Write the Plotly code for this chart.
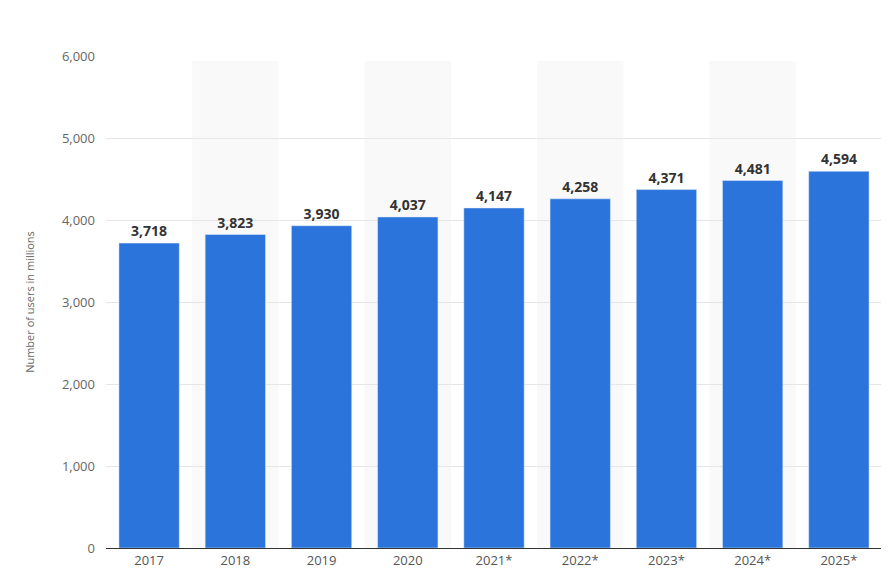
import plotly.graph_objects as go

years = ["2017", "2018", "2019", "2020", "2021*", "2022*", "2023*", "2024*", "2025*"]
users = [3718, 3823, 3930, 4037, 4147, 4258, 4371, 4481, 4594]
labels = [f"{v:,}" for v in users]

fig = go.Figure(go.Bar(
    x=years, y=users, marker_color="#2a74db", text=labels, textposition="outside",
    textfont=dict(family="Open Sans", size=14, color="#333333", weight="bold"),
    cliponaxis=False,
))
shapes = []
for i in range(1, len(years), 2):
    shapes.append(dict(type="rect", xref="x", yref="paper", x0=i - 0.5, x1=i + 0.5,
                       y0=0, y1=0.99, fillcolor="#f9f9f9", line_width=0, layer="below"))
fig.update_layout(
    width=889, height=580, margin=dict(l=98, r=15, t=48, b=40, autoexpand=False),
    plot_bgcolor="white", paper_bgcolor="white", shapes=shapes, bargap=0.3,
    showlegend=False, font=dict(family="Open Sans", color="#666666", size=12),
)
fig.update_xaxes(showline=True, linecolor="#333333", linewidth=1, ticks="", automargin=False,
                 tickfont=dict(size=13, color="#555555"))
fig.update_yaxes(range=[0, 6000], dtick=1000, tickformat=",", gridcolor="#e6e6e6",
                 zeroline=False, automargin=False,
                 title=dict(text="Number of users in millions",
                            font=dict(size=11, color="#666666"), standoff=25),
                 tickfont=dict(size=13, color="#666666"), ticklabelstandoff=10)
fig.write_html("out.html")
